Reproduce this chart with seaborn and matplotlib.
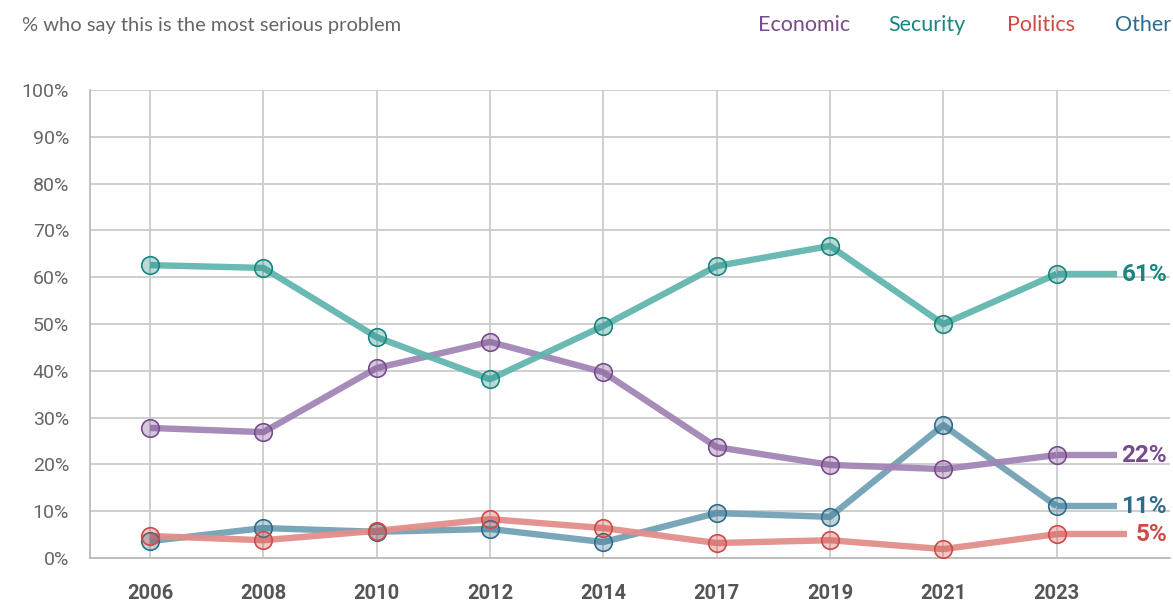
import matplotlib
matplotlib.use("Agg")
import matplotlib.pyplot as plt
import seaborn as sns
import pandas as pd
import numpy as np
from matplotlib.colors import to_rgba

years = ["2006", "2008", "2010", "2012", "2014", "2017", "2019", "2021", "2023"]
economic = [27.8, 26.9, 40.6, 46.2, 39.7, 23.7, 19.9, 19.0, 22.0]
security = [62.6, 62.0, 47.2, 38.2, 49.6, 62.4, 66.7, 50.0, 60.7]
politics = [4.7, 3.8, 5.8, 8.3, 6.4, 3.2, 3.8, 1.9, 5.1]
other = [3.6, 6.4, 5.6, 6.2, 3.4, 9.6, 8.8, 28.4, 11.1]
end_labels = {"Economic": "22%", "Security": "61%", "Politics": "5%", "Other": "11%"}
yticks = [0, 10, 20, 30, 40, 50, 60, 70, 80, 90, 100]

series = {"Economic": economic, "Security": security, "Politics": politics, "Other": other}
dark = {"Economic": "#7a4a8e", "Security": "#17877f", "Politics": "#cf4a45", "Other": "#2f6c8c"}
line_c = {"Economic": "#a285b5", "Security": "#62b5ae", "Politics": "#e28e8a", "Other": "#72a2b5"}

sns.set_theme(style="white")
plt.rcParams['font.family'] = ['Roboto', 'DejaVu Sans']

fig = plt.figure(figsize=(11.73, 6.05), dpi=100)
ax = fig.add_axes([0.0767, 0.0777, 0.9207, 0.7733])

rows = []
for name, vals in series.items():
    for i, v in enumerate(vals):
        rows.append({"series": name, "x": i, "value": v})
df = pd.DataFrame(rows)

order = ["Other", "Politics", "Economic", "Security"]
ext_end = {"Economic": 8.53, "Security": 8.53, "Politics": 8.62, "Other": 8.53}
for name in order:
    sub = df[df.series == name]
    sns.lineplot(data=sub, x="x", y="value", ax=ax, color=line_c[name],
                 linewidth=4.6, alpha=0.95, legend=False, zorder=3,
                 solid_capstyle="butt", solid_joinstyle="round")
    last = series[name][-1]
    ax.plot([len(years) - 1, ext_end[name]], [last, last], color=line_c[name],
            linewidth=4.6, alpha=0.95, zorder=3, solid_capstyle="butt")
    fc = to_rgba(dark[name], 0.3)
    sns.scatterplot(data=sub, x="x", y="value", ax=ax, s=160, marker="o",
                    facecolor=[fc], edgecolor=dark[name], linewidth=1.2,
                    legend=False, zorder=4)
    ax.text(8.975, last, end_labels[name], color=dark[name], fontsize=17.5,
            fontweight="bold", ha="right", va="center", zorder=5)

ax.set_xlim(-0.53, 9.0)
ax.set_ylim(0, 100)
ax.set_xticks(range(len(years)))
ax.set_xticklabels(years, fontsize=14.5, fontweight="bold", color="#555555")
ax.set_yticks(yticks)
ax.set_yticklabels([f"{t}%" for t in yticks], fontsize=14, color="#666666")
ax.tick_params(axis="x", length=0, pad=19)
ax.tick_params(axis="y", length=0, pad=15)
ax.set_xlabel("")
ax.set_ylabel("")
ax.grid(True, color="#cccccc", linewidth=1.3, zorder=0)
ax.set_axisbelow(True)
for s in ["left", "bottom"]:
    ax.spines[s].set_color("#bbbbbb")
    ax.spines[s].set_linewidth(1.3)
for s in ["top", "right"]:
    ax.spines[s].set_visible(False)

fig.text(22 / 1173, 1 - 25 / 605, "% who say this is the most serious problem",
         fontsize=14.5, color="#666666", family=["Lato", "DejaVu Sans"],
         ha="left", va="center")
leg_x = {"Economic": 758, "Security": 888, "Politics": 1007, "Other": 1115}
for name, px in leg_x.items():
    fig.text(px / 1173, 1 - 25 / 605, name, fontsize=15.5, color=dark[name],
             family=["Lato", "DejaVu Sans"], ha="left", va="center")

fig.savefig("out.png", dpi=100, facecolor="white")
